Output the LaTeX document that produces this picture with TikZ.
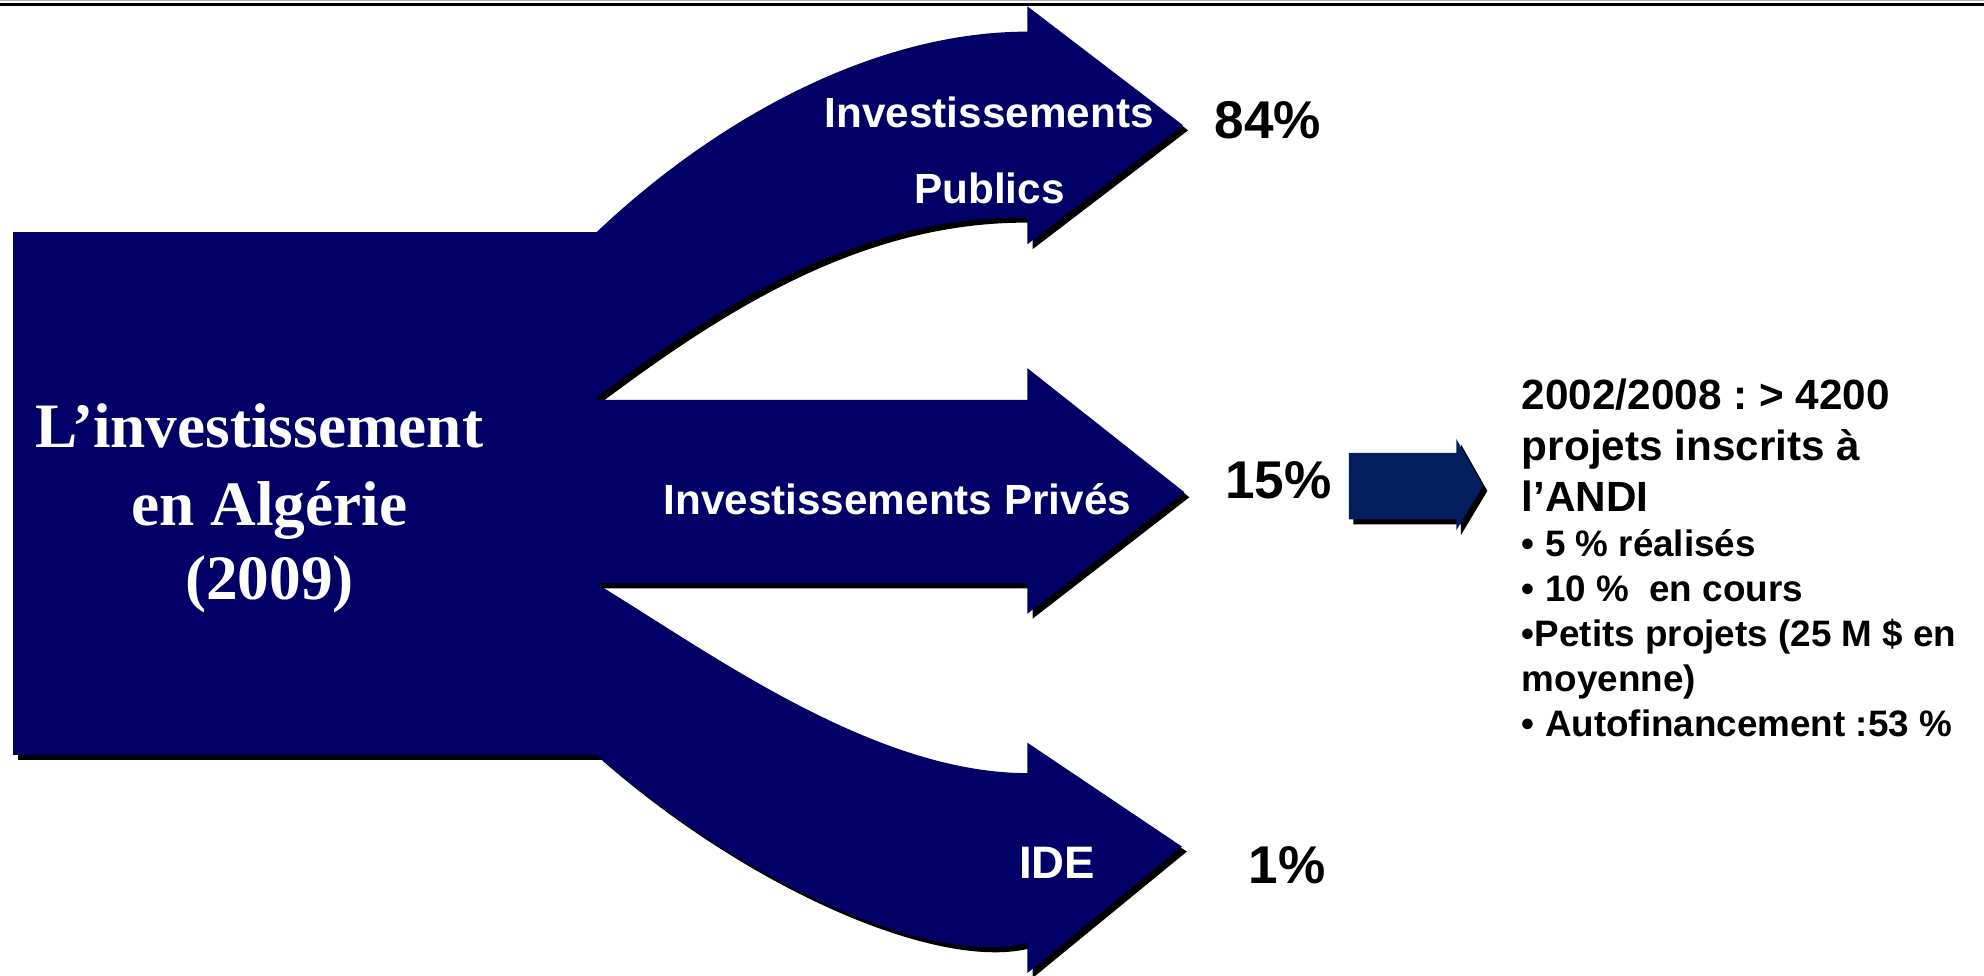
\documentclass[tikz,border=0pt]{standalone}
\usepackage{fontspec}
\setmainfont{Liberation Serif}
\setsansfont{Liberation Sans}
\definecolor{navy}{RGB}{0,0,102}
\definecolor{smallblue}{RGB}{4,30,94}
\newcommand\flowshapes[1]{%
  \fill[#1] (10,183) rectangle (472,597);
  % public investments arrow
  \fill[#1] (472,183) .. controls (565,95) and (690,25) .. (812,25)
     -- (812,5) -- (935,99) -- (812,193) -- (812,172)
     .. controls (680,170) and (570,240) .. (470,315) -- cycle;
  % private investments arrow
  \fill[#1] (470,316) -- (812,316) -- (812,291) -- (936,389)
     -- (812,485) -- (812,461) -- (470,461) -- cycle;
  % IDE arrow
  \fill[#1] (471,461) .. controls (560,515) and (690,611) .. (812,611)
     -- (812,587) -- (934,669) -- (812,769) -- (812,745)
     .. controls (740,765) and (590,700) .. (472,597) -- cycle;
}
\newcommand\smallarrow[1]{%
  \fill[#1] (1066,358) -- (1151,358) -- (1151,347) -- (1172,384)
     -- (1151,419) -- (1151,410.5) -- (1066,410.5) -- cycle;
}
\begin{document}
\frenchspacing
\begin{tikzpicture}[x=1pt,y=-1pt,
  lbl/.style={text=white,inner sep=0pt,anchor=base,
    font=\frenchspacing\sffamily\bfseries\fontsize{33.4}{40}\selectfont},
  pct/.style={text=black,inner sep=0pt,anchor=base west,
    font=\sffamily\bfseries\fontsize{42}{50}\selectfont},
  title/.style={text=white,inner sep=0pt,anchor=base,
    font=\bfseries\fontsize{50}{60}\selectfont},
  bigline/.style={text=black,inner sep=0pt,anchor=base west,
    font=\frenchspacing\sffamily\bfseries\fontsize{33.4}{40}\selectfont},
  smallline/.style={text=black,inner sep=0pt,anchor=base west,
    font=\frenchspacing\sffamily\bfseries\fontsize{29.1}{35}\selectfont}]
\useasboundingbox (0,0) rectangle (1568,771);
\fill[white] (0,0) rectangle (1568,771);
% top rules
\draw[gray!60,line width=1pt] (0,0.5) -- (1568,0.5);
\draw[black,line width=1.9pt] (0,3.5) -- (1568,3.5);
% shadows then shapes
\flowshapes{black,shift={(4,4)}}
\flowshapes{navy}
\smallarrow{black,shift={(3.5,4)}}
\smallarrow{smallblue}
% title
\node[title] (t1) at (205,353.5) {L’investissement};
\node[title] (t2) at (213,415) {en Algérie};
\node[title] (t3) at (213,474) {(2009)};
% arrow labels
\node[lbl] (pub1) at (781.8,100.6) {Investissements};
\node[lbl] (pub2) at (781.9,161.2) {Publics};
\node[lbl] (priv) at (709.2,407) {Investissements Privés};
\node[lbl,font=\sffamily\bfseries\fontsize{36}{42}\selectfont] (ide) at (835.4,694.2) {IDE};
% percentages
\node[pct] (p84) at (959.7,109.3) {84\%};
\node[pct] (p15) at (968,393.8) {15\%};
\node[pct] (p1) at (986.6,698.1) {1\%};
% right text block
\node[bigline] (r1) at (1202.6,324) {2002/2008 : > 4200};
\node[bigline] (r2) at (1202.6,363.6) {projets inscrits à};
\node[bigline] (r3) at (1202.6,404.4) {l’ANDI};
\node[smallline] (r4) at (1202.6,440) {• 5 \% réalisés};
\node[smallline] (r5) at (1202.6,475.5) {• 10 \%\ \ en cours};
\node[smallline] (r6) at (1202.6,511) {•Petits projets (25 M \$ en};
\node[smallline] (r7) at (1202.6,546.6) {moyenne)};
\node[smallline] (r8) at (1202.6,582.2) {• Autofinancement :53 \%};
\end{tikzpicture}
\end{document}
